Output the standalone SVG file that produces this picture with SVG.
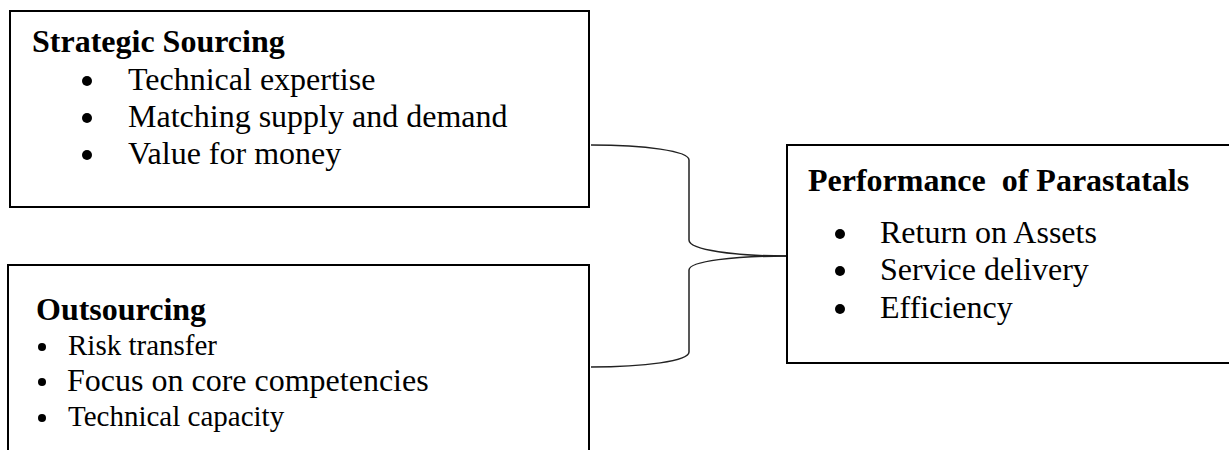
<svg xmlns="http://www.w3.org/2000/svg" width="1229" height="450" viewBox="0 0 1229 450">
<style>
.box{fill:#fff;stroke:#000;stroke-width:2}
.t{font-family:"Liberation Serif","Times New Roman",serif;fill:#000}
.h{font-weight:bold;font-size:32px}
.i{font-size:32px}
.s{font-size:29px}
.b{fill:#000}
.c{fill:none;stroke:#222;stroke-width:1.5}
</style>
<rect width="1229" height="450" fill="#fff"/>
<g id="connectors">
<path class="c" d="M591,145 C645,145 689,151 689,160 L689,240 C689,250 735,256 787,256"/>
<path class="c" d="M787,256 C735,256 689,261 689,270 L689,352 C689,361 645,367 591,367"/>
</g>
<g id="strategic-sourcing">
<rect class="box" x="10" y="11" width="579" height="196"/>
<text class="t h" x="32" y="52">Strategic Sourcing</text>
<circle class="b" cx="87" cy="81" r="5"/>
<text class="t i" x="128" y="90">Technical expertise</text>
<circle class="b" cx="87" cy="118" r="5"/>
<text class="t i" x="128" y="127">Matching supply and demand</text>
<circle class="b" cx="87" cy="155" r="5"/>
<text class="t i" x="128" y="164">Value for money</text>
</g>
<g id="outsourcing">
<rect class="box" x="8" y="265" width="581" height="200"/>
<text class="t h" x="36" y="320">Outsourcing</text>
<circle class="b" cx="42" cy="347" r="4"/>
<text class="t s" x="68" y="355">Risk transfer</text>
<circle class="b" cx="42" cy="382" r="4"/>
<text class="t i" x="67" y="391">Focus on core competencies</text>
<circle class="b" cx="42" cy="418" r="4"/>
<text class="t s" x="68" y="426">Technical capacity</text>
</g>
<g id="performance">
<rect class="box" x="787" y="145" width="460" height="218"/>
<text class="t h" x="808" y="191" xml:space="preserve" style="white-space:pre">Performance  of Parastatals</text>
<circle class="b" cx="840" cy="234" r="5"/>
<text class="t i" x="880" y="243">Return on Assets</text>
<circle class="b" cx="840" cy="271" r="5"/>
<text class="t i" x="880" y="280">Service delivery</text>
<circle class="b" cx="840" cy="309" r="5"/>
<text class="t i" x="880" y="318">Efficiency</text>
</g>
</svg>
